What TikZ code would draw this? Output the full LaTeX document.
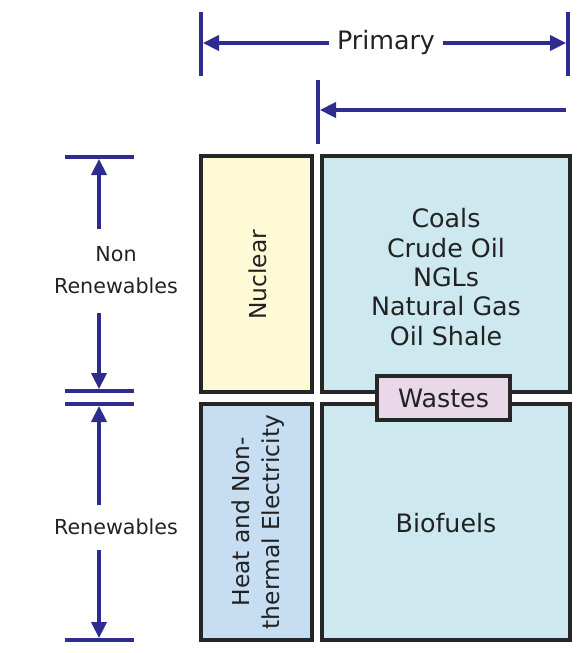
\documentclass[tikz,border=0pt]{standalone}
\usepackage{fontspec}
\setmainfont{DejaVu Sans}
\usetikzlibrary{arrows.meta,positioning}
\definecolor{navy}{HTML}{2E2C8E}
\definecolor{txt}{HTML}{222222}
\definecolor{nucfill}{HTML}{FFFAD6}
\definecolor{fosfill}{HTML}{CDE8EF}
\definecolor{heatfill}{HTML}{C7DDF1}
\definecolor{wastefill}{HTML}{E8D8E8}
\tikzset{
  box/.style={draw=black!85, line width=2.4pt, inner sep=0pt, outer sep=0pt},
  lbl/.style={text=txt, font=\fontsize{17.5}{23}\selectfont, align=center, inner sep=1pt},
  blbl/.style={text=txt, font=\fontsize{19}{22}\selectfont, align=center, inner sep=1pt},
  slbl/.style={text=txt, font=\fontsize{15.5}{24}\selectfont, align=center, inner sep=1pt},
  dim/.style={draw=navy, line width=2.3pt},
  dimarrow/.style={dim, -{Triangle[length=12pt,width=11.5pt]}},
}
\begin{document}
\begin{tikzpicture}[x=0.75pt,y=-0.75pt]
\useasboundingbox (0,0) rectangle (582,653);
% boxes
\node[box, fill=nucfill, minimum width=111*0.75pt, minimum height=236*0.75pt] (nuc) at (256.5,274) {};
\node[box, fill=fosfill, minimum width=248*0.75pt, minimum height=236*0.75pt] (fos) at (446,274) {};
\node[box, fill=heatfill, minimum width=111*0.75pt, minimum height=236*0.75pt] (heat) at (256.5,522) {};
\node[box, fill=fosfill, minimum width=248*0.75pt, minimum height=236*0.75pt] (bio) at (446,522) {};
\node[box, fill=wastefill, minimum width=133*0.75pt, minimum height=44*0.75pt] (waste) at (443.5,398) {};
% labels
\node[lbl, rotate=90] (nuclbl) at (258,275) {Nuclear};
\node[lbl, rotate=90] (heatlbl) at (258,522) {Heat and Non-\\thermal Electricity};
\node[blbl] (foslbl) at (446,277) {Coals\\Crude Oil\\NGLs\\Natural Gas\\Oil Shale};
\node[blbl] (biolbl) at (446,523) {Biofuels};
\node[blbl] (wastelbl) at (waste.center) {Wastes};
% Primary dimension
\coordinate (pl1) at (201,12); \coordinate (pl2) at (201,76);
\coordinate (pr1) at (568,12); \coordinate (pr2) at (568,76);
\draw[dim] (pl1) -- (pl2);
\draw[dim] (pr1) -- (pr2);
\node[blbl] (prim) at (386,43) {Primary};
\draw[dimarrow] (prim.west) ++(-6,0) -- (203,43);
\draw[dimarrow] (prim.east) ++(6,0) -- (566,43);
% second arrow
\coordinate (sl1) at (318,80); \coordinate (sl2) at (318,144);
\draw[dim] (sl1) -- (sl2);
\coordinate (s0) at (566,110);
\draw[dimarrow] (s0) -- (320,110);
% left dimensions
\coordinate (t1a) at (65,157); \coordinate (t1b) at (134,157);
\coordinate (t2a) at (65,391); \coordinate (t2b) at (134,391);
\coordinate (t3a) at (65,404); \coordinate (t3b) at (134,404);
\coordinate (t4a) at (65,640); \coordinate (t4b) at (134,640);
\draw[dim] (t1a) -- (t1b);
\draw[dim] (t2a) -- (t2b);
\draw[dim] (t3a) -- (t3b);
\draw[dim] (t4a) -- (t4b);
\node[slbl] (nonren) at (116,270) {Non\\Renewables};
\draw[dimarrow] (99,229) -- (99,159);
\draw[dimarrow] (99,313) -- (99,389);
\node[slbl] (ren) at (116,527) {Renewables};
\draw[dimarrow] (99,505) -- (99,406);
\draw[dimarrow] (99,550) -- (99,638);
\end{tikzpicture}
\end{document}
